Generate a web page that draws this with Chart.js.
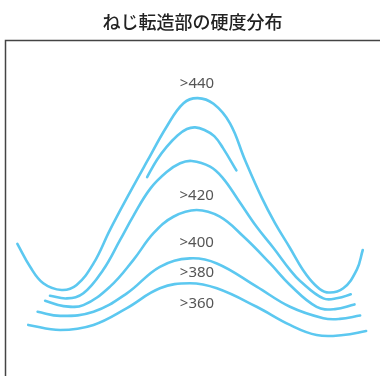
<!DOCTYPE html>
<html>
<head>
<meta charset="utf-8">
<script src="https://cdn.jsdelivr.net/npm/chart.js@4/dist/chart.umd.min.js"></script>
<style>
html,body{margin:0;padding:0;background:#fff;}
#wrap{width:380px;height:376px;position:relative;}
</style>
</head>
<body>
<div id="wrap"><canvas id="c"></canvas></div>
<script>
// Contour lines of hardness (x: position across thread, y: height), arbitrary 0-100 units
const titleText = "ねじ転造部の硬度分布";
const contourNames = ["c440", "c440b", "c420", "c400", "c380", "c360"];

const c440X = [3.3, 6.7, 10.2, 15.1, 19.1, 23.6, 28.0, 32.8, 37.8, 43.1, 47.6, 51.4, 55.6, 60.0, 64.0, 68.5, 72.0, 76.0, 79.5, 82.7, 85.8, 90.2, 93.8, 95.4];
const c440Y = [39.3, 32.5, 27.6, 25.6, 27.1, 33.5, 43.5, 53.6, 63.7, 74.2, 81.2, 82.7, 81.0, 75.2, 64.3, 53.0, 45.5, 38.1, 31.5, 27.1, 24.9, 26.1, 31.6, 37.5];

const c440bX = [37.9, 40.5, 43.1, 46.0, 48.5, 50.7, 53.2, 55.8, 58.1, 61.7];
const c440bY = [59.2, 64.3, 68.2, 71.6, 73.5, 74.0, 73.2, 71.4, 67.9, 61.2];

const c420X = [12.0, 16.5, 20.9, 26.2, 30.7, 34.2, 38.7, 43.1, 46.7, 49.8, 54.7, 58.1, 62.2, 67.1, 71.6, 76.0, 78.7, 84.9, 88.8, 92.2];
const c420Y = [23.9, 23.1, 24.6, 31.6, 40.5, 47.6, 55.7, 60.7, 63.3, 64.0, 62.3, 58.9, 52.4, 44.4, 38.1, 31.6, 28.3, 23.1, 23.2, 24.3];

const c400X = [10.7, 15.6, 20.9, 28.0, 34.2, 39.6, 44.9, 51.1, 57.3, 63.6, 70.7, 76.0, 83.1, 88.0, 93.2];
const c400Y = [22.4, 20.8, 21.1, 26.6, 34.5, 42.5, 47.4, 49.4, 47.4, 41.5, 33.5, 27.1, 20.6, 19.9, 21.3];

const c380X = [8.7, 14.7, 23.6, 32.5, 41.3, 49.3, 56.5, 67.1, 76.0, 84.9, 89.3, 94.7];
const c380Y = [19.1, 17.9, 19.1, 24.6, 32.5, 35.0, 33.5, 26.6, 20.6, 17.2, 17.0, 18.0];

const c360X = [6.2, 14.7, 23.6, 32.5, 41.3, 49.3, 56.5, 67.1, 76.0, 83.1, 90.2, 96.3];
const c360Y = [15.2, 13.7, 15.2, 20.2, 26.1, 27.6, 26.1, 20.6, 15.2, 12.2, 12.2, 13.4];

// Region labels
const labelTexts = [">440", ">420", ">400", ">380", ">360"];
const labelX = [51.2, 51.1, 51.1, 51.2, 51.2];
const labelY = [86.9, 53.6, 39.7, 30.7, 21.4];

const seriesX = [c440X, c440bX, c420X, c400X, c380X, c360X];
const seriesY = [c440Y, c440bY, c420Y, c400Y, c380Y, c360Y];

const lineColor = "#5cc8f0";

const datasets = seriesX.map((xs, i) => ({
  label: contourNames[i],
  data: xs.map((x, j) => ({x: x, y: seriesY[i][j]})),
  borderColor: lineColor,
  borderWidth: 2.6,
  borderCapStyle: "round",
  pointRadius: 0,
  pointHoverRadius: 0,
  fill: false,
  tension: 0.4,
  clip: false
}));

const framePlugin = {
  id: "frame",
  beforeDraw(chart) {
    const ctx = chart.ctx;
    const a = chart.chartArea;
    ctx.save();
    ctx.strokeStyle = "#444444";
    ctx.lineWidth = 1.5;
    const l = Math.round(a.left) + 0.5;
    const t = Math.round(a.top) + 0.5;
    ctx.beginPath();
    ctx.moveTo(l, chart.height);
    ctx.lineTo(l, t);
    ctx.lineTo(chart.width, t);
    ctx.stroke();
    ctx.restore();
  }
};

const labelPlugin = {
  id: "labels",
  afterDatasetsDraw(chart) {
    const ctx = chart.ctx;
    const xs = chart.scales.x, ys = chart.scales.y;
    ctx.save();
    ctx.fillStyle = "#555555";
    ctx.font = "15px 'Noto Sans', 'DejaVu Sans', sans-serif";
    ctx.textAlign = "center";
    ctx.textBaseline = "middle";
    labelTexts.forEach((t, i) => {
      ctx.fillText(t, xs.getPixelForValue(labelX[i]), ys.getPixelForValue(labelY[i]));
    });
    ctx.restore();
  }
};

new Chart(document.getElementById("c"), {
  type: "line",
  data: { datasets: datasets },
  options: {
    responsive: true,
    maintainAspectRatio: false,
    animation: false,
    events: [],
    layout: { padding: { left: 5, top: 0, right: 0, bottom: 0 } },
    plugins: {
      legend: { display: false },
      tooltip: { enabled: false },
      title: {
        display: true,
        text: titleText,
        color: "#222222",
        font: { family: "'Noto Sans CJK JP', sans-serif", size: 18, weight: 500, lineHeight: 1.2 },
        padding: { top: 11, bottom: 7.4 }
      }
    },
    scales: {
      x: { type: "linear", min: 0, max: 100, display: false },
      y: { type: "linear", min: 0, max: 100, display: false }
    }
  },
  plugins: [framePlugin, labelPlugin]
});
</script>
</body>
</html>
